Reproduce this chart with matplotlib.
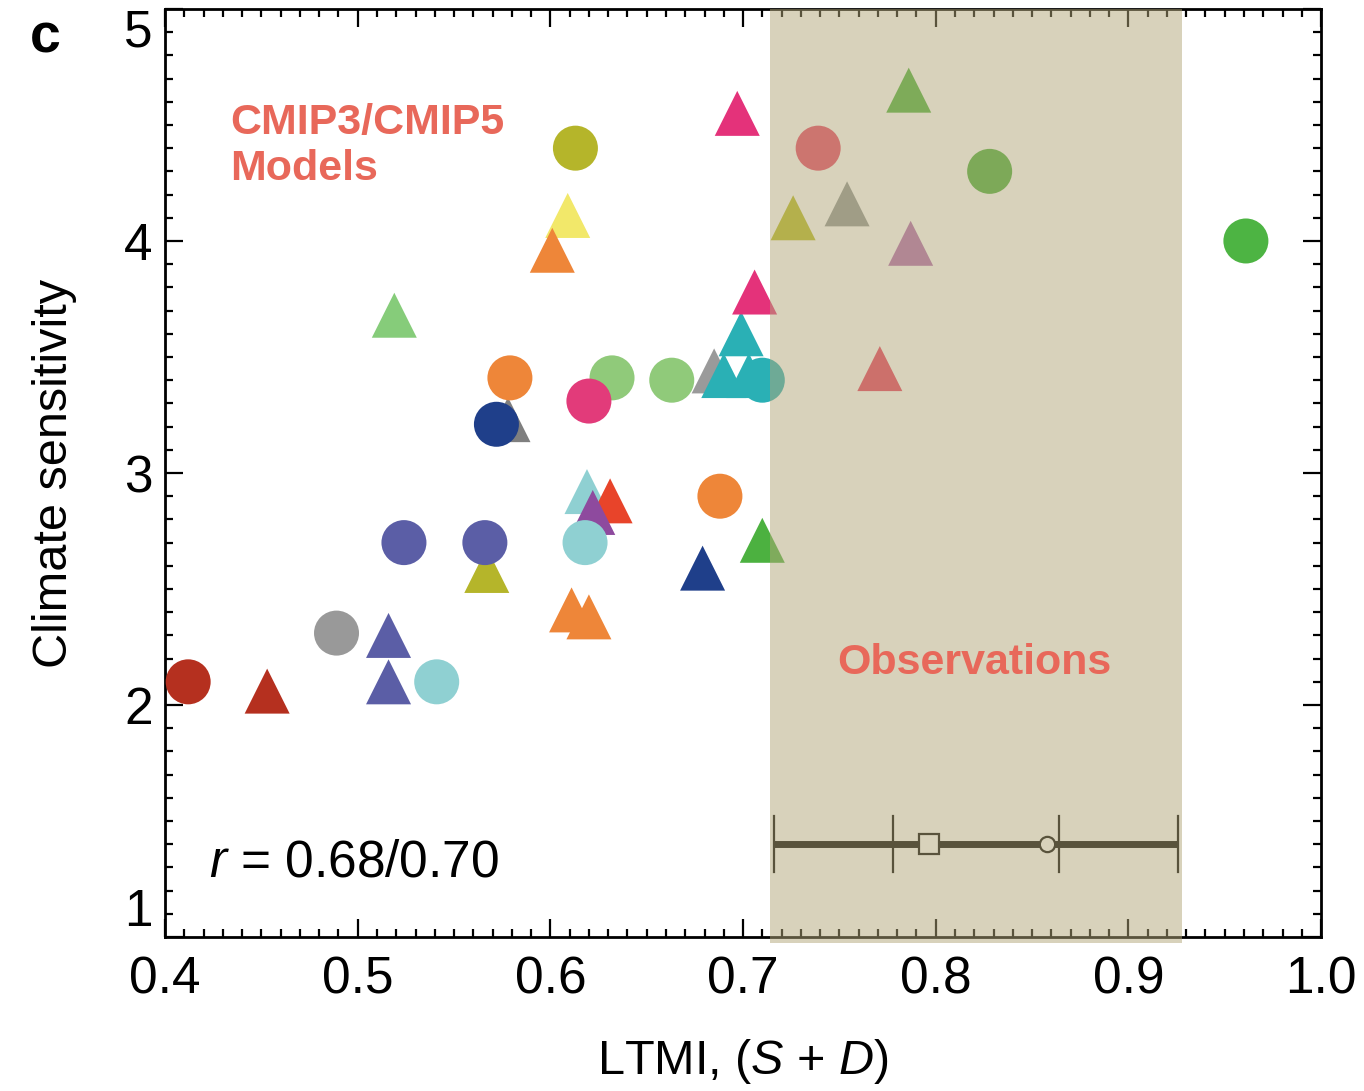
import matplotlib
matplotlib.use("Agg")
import matplotlib.pyplot as plt
from matplotlib.ticker import MultipleLocator

plt.rcParams['font.family'] = ['Liberation Sans', 'DejaVu Sans']
plt.rcParams['mathtext.fontset'] = 'custom'
plt.rcParams['mathtext.rm'] = 'Liberation Sans'
plt.rcParams['mathtext.it'] = 'Liberation Sans:italic'

# model points, listed back to front (drawing order matters for overlaps)
model_x = [0.578, 0.579, 0.572, 0.632, 0.620, 0.663, 0.685, 0.690, 0.703, 0.699, 0.710,
           0.567, 0.524, 0.566, 0.619, 0.631, 0.622, 0.618, 0.611, 0.620, 0.688, 0.679,
           0.710, 0.412, 0.453, 0.489, 0.516, 0.516, 0.541, 0.519, 0.609, 0.601, 0.613,
           0.697, 0.706, 0.739, 0.786, 0.726, 0.754, 0.787, 0.828, 0.961, 0.771]
model_y = [3.23, 3.41, 3.21, 3.41, 3.31, 3.40, 3.44, 3.42, 3.42, 3.60, 3.40,
           2.58, 2.70, 2.70, 2.92, 2.88, 2.83, 2.70, 2.41, 2.38, 2.90, 2.59,
           2.71, 2.10, 2.06, 2.31, 2.30, 2.10, 2.10, 3.68, 4.11, 3.96, 4.40,
           4.55, 3.78, 4.40, 4.65, 4.10, 4.16, 3.99, 4.30, 4.00, 3.45]
model_shape = ['^', 'o', 'o', 'o', 'o', 'o', '^', '^', '^', '^', 'o',
               '^', 'o', 'o', '^', '^', '^', 'o', '^', '^', 'o', '^',
               '^', 'o', '^', 'o', '^', '^', 'o', '^', '^', '^', 'o',
               '^', '^', 'o', '^', '^', '^', '^', 'o', 'o', '^']
model_color = ['#7f7f7f', '#ee8639', '#1f3f8a', '#90ca7a', '#e23b7a', '#90ca7a', '#9a9a9a',
               '#2ab0b5', '#2ab0b5', '#2ab0b5', '#2ab0b5',
               '#b5b52a', '#5b5ea6', '#5b5ea6', '#8fd0d2', '#e8442a', '#8e4a9e', '#8fd0d2',
               '#ee8639', '#ee8639', '#ee8639', '#1f3f8a',
               '#4cb140', '#b5301f', '#b5301f', '#999999', '#5b5ea6', '#5b5ea6', '#8fd0d2',
               '#86cc7a', '#f2e86a', '#ee8639', '#b5b52a',
               '#e4327a', '#e4327a', '#e84466', '#4ab23a', '#b8bc20', '#8e9496', '#b068b0',
               '#48ae38', '#4db443', '#e83a5e']

# observational estimate
obs_lo, obs_hi = 0.714, 0.928
obs_bar = [0.716, 0.926]
obs_ticks = [0.716, 0.778, 0.864, 0.926]
obs_square = 0.7965
obs_circle = 0.858
obs_y = 1.40

fig = plt.figure(figsize=(13.64, 10.91), dpi=100)
ax = fig.add_axes([0.121, 0.1411, 0.8475, 0.8507])

for x, y, m, c in zip(model_x, model_y, model_shape, model_color):
    ax.scatter(x, y, s=1050, marker=m, color=c, edgecolors='none', zorder=3)

ax.plot(obs_bar, [obs_y, obs_y], color='black', lw=5, zorder=4, solid_capstyle='butt')
for t in obs_ticks:
    ax.plot([t, t], [obs_y - 0.12, obs_y + 0.12], color='black', lw=1.6, zorder=4)
ax.plot(obs_square, obs_y, marker='s', ms=15, mfc='white', mec='black', mew=1.6, zorder=5)
ax.plot(obs_circle, obs_y, marker='o', ms=11, mfc='white', mec='black', mew=1.6, zorder=5)

# translucent observation band laid over everything
ax.axvspan(obs_lo, obs_hi, ymin=-0.006, ymax=1.0, color=(178/255, 166/255, 120/255),
           alpha=0.5, lw=0, zorder=10, clip_on=False)

ax.set_xlim(0.4, 1.0)
ax.set_ylim(1, 5)
ax.xaxis.set_major_locator(MultipleLocator(0.1))
ax.xaxis.set_minor_locator(MultipleLocator(0.01))
ax.yaxis.set_major_locator(MultipleLocator(1))
ax.yaxis.set_minor_locator(MultipleLocator(0.1))
ax.set_xticks([0.4, 0.5, 0.6, 0.7, 0.8, 0.9, 1.0])
ax.set_xticklabels(['0.4', '0.5', '0.6', '0.7', '0.8', '0.9', '1.0'])
ax.set_yticks([1, 2, 3, 4, 5])
ax.set_yticklabels(['1', '2', '3', '4', '5'])
ax.tick_params(which='both', direction='in', top=True, right=True, width=1.6, labelsize=37)
ax.tick_params(which='major', length=13)
ax.tick_params(which='minor', length=6)
ax.tick_params(axis='x', pad=13)
ax.tick_params(axis='y', pad=9)
for s in ax.spines.values():
    s.set_linewidth(2)

ylabs = ax.get_yticklabels()
ylabs[0].set_verticalalignment('bottom')
ylabs[-1].set_verticalalignment('top')

ax.set_xlabel('LTMI, ($S$ + $D$)', fontsize=35, labelpad=24)
ax.set_ylabel('Climate sensitivity', fontsize=35, labelpad=34)

ax.text(0.434, 4.41, 'CMIP3/CMIP5\nModels', color='#e8685a', fontsize=31,
        fontweight='bold', ha='left', va='center', linespacing=1.2, zorder=12)
ax.text(0.820, 2.18, 'Observations', color='#e8685a', fontsize=31,
        fontweight='bold', ha='center', va='center', zorder=12)
ax.text(0.423, 1.32, '$r$ = 0.68/0.70', fontsize=37, ha='left', va='center', zorder=12)

fig.text(0.033, 0.965, 'c', fontsize=40, fontweight='bold', ha='center', va='center')

fig.savefig('out.png', dpi=100)
